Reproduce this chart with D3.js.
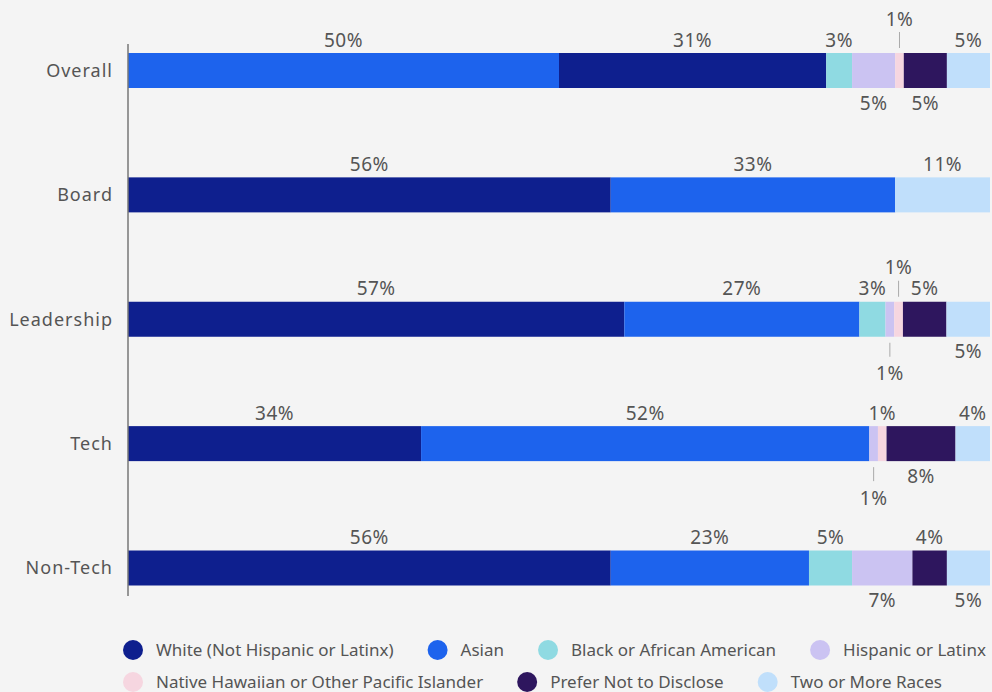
<!DOCTYPE html>
<html>
<head>
<meta charset="utf-8">
<script src="https://cdn.jsdelivr.net/npm/d3@7"></script>
<style>
  html, body { margin: 0; padding: 0; background: #f4f4f4; }
  svg { display: block; }
</style>
</head>
<body>
<div id="chart"></div>
<script>
'use strict';

// categories (rows) and series
var categories = ["Overall", "Board", "Leadership", "Tech", "Non-Tech"];
var seriesNames = [
  "White (Not Hispanic or Latinx)", "Asian", "Black or African American",
  "Hispanic or Latinx", "Native Hawaiian or Other Pacific Islander",
  "Prefer Not to Disclose", "Two or More Races"
];

// percentage per category, in the order of categories
var white    = [31, 56, 57, 34, 56];
var asian    = [50, 33, 27, 52, 23];
var black    = [3,  0,  3,  0,  5];
var hispanic = [5,  0,  1,  1,  7];
var hawaiian = [1,  0,  1,  1,  0];
var preferNot = [5, 0,  5,  8,  4];
var twoOrMore = [5, 11, 5,  4,  5];

// the Overall row is stacked with Asian first
var overallOrder = [1, 0, 2, 3, 4, 5, 6];

var colors = ["#0e1f8e", "#1d63ed", "#8fdae2", "#cbc3f2", "#f6d6e0", "#2e165e", "#c0dffb"];

// where each value label sits: up, down, up2 (with leader), down2 (with leader)
var labelPlace = {
  "Overall": ["up", "up", "up", "down", "up2", "down", "up"],
  "Board": ["up", "up", "up", "up", "up", "up", "up"],
  "Leadership": ["up", "up", "up", "down2", "up2", "up", "down"],
  "Tech": ["up", "up", "up", "down2", "up", "down", "up"],
  "Non-Tech": ["up", "up", "up", "down", "up", "up", "down"]
};

var svgWidth = 992, svgHeight = 692;
var left = 128, right = 990;
var barH = 35;

var values = [white, asian, black, hispanic, hawaiian, preferNot, twoOrMore];

var svg = d3.select("#chart").append("svg")
  .attr("width", svgWidth)
  .attr("height", svgHeight)
  .style("background", "#f4f4f4");

var y = d3.scalePoint()
  .domain(categories)
  .range([70.5, 568]);

var textColor = "#555";
var font = "'Noto Sans', sans-serif";

// build segments for each row
var rows = categories.map(function(cat, i) {
  var order = cat == "Overall" ? overallOrder : d3.range(seriesNames.length);
  var total = d3.sum(values, function(v) { return v[i]; });
  var x = d3.scaleLinear().domain([0, total]).range([left, right]);
  var acc = 0;
  var segs = [];
  order.forEach(function(s) {
    var v = values[s][i];
    if (v > 0) {
      segs.push({ cat: cat, series: s, value: v, x0: x(acc), x1: x(acc + v) });
    }
    acc += v;
  });
  return segs;
});

var segments = d3.merge(rows);

// bars
svg.append("g").selectAll("rect")
  .data(segments)
  .join("rect")
  .attr("x", function(d) { return d.x0; })
  .attr("y", function(d) { return y(d.cat) - barH / 2; })
  .attr("width", function(d) { return d.x1 - d.x0; })
  .attr("height", barH)
  .attr("fill", function(d) { return colors[d.series]; });

// axis line
svg.append("line")
  .attr("x1", left).attr("x2", left)
  .attr("y1", 44).attr("y2", 596)
  .attr("stroke", "#777")
  .attr("stroke-width", 1.5);

// category labels
svg.append("g").selectAll("text")
  .data(categories)
  .join("text")
  .attr("x", 113)
  .attr("y", function(d) { return y(d); })
  .attr("dy", "0.35em")
  .attr("text-anchor", "end")
  .attr("fill", textColor)
  .style("font-family", font)
  .style("font-size", "18px")
  .style("letter-spacing", "1px")
  .text(function(d) { return d; });

// value labels
var labels = svg.append("g");
segments.forEach(function(d) {
  var place = labelPlace[d.cat][d.series];
  var cx = (d.x0 + d.x1) / 2;
  var top = y(d.cat) - barH / 2, bottom = y(d.cat) + barH / 2;
  var ty;
  if (place == "up") ty = top - 13;
  else if (place == "down") ty = bottom + 15;
  else if (place == "up2") {
    ty = top - 34;
    labels.append("line")
      .attr("x1", cx).attr("x2", cx)
      .attr("y1", top - 5).attr("y2", top - 21)
      .attr("stroke", "#aaa").attr("stroke-width", 1);
  } else {
    ty = bottom + 37;
    labels.append("line")
      .attr("x1", cx).attr("x2", cx)
      .attr("y1", bottom + 6).attr("y2", bottom + 20)
      .attr("stroke", "#aaa").attr("stroke-width", 1);
  }
  labels.append("text")
    .attr("x", cx)
    .attr("y", ty)
    .attr("dy", "0.35em")
    .attr("text-anchor", "middle")
    .attr("fill", textColor)
    .style("font-family", font)
    .style("font-size", "19px")
    .style("letter-spacing", "0.5px")
    .text(d.value + "%");
});

// legend, 4 items on the first row and 3 on the second
var legend = svg.append("g")
  .style("font-family", font)
  .style("font-size", "17px");
var legendRows = [[0, 1, 2, 3], [4, 5, 6]];
var legendY = [650, 682];
legendRows.forEach(function(row, r) {
  var lx = 133;
  row.forEach(function(s) {
    var item = legend.append("g").attr("transform", "translate(" + lx + "," + legendY[r] + ")");
    item.append("circle").attr("r", 10).attr("fill", colors[s]);
    var t = item.append("text")
      .attr("x", 23)
      .attr("dy", "0.35em")
      .attr("fill", textColor)
      .text(seriesNames[s]);
    lx += 23 + t.node().getComputedTextLength() + 44;
  });
});
</script>
</body>
</html>
